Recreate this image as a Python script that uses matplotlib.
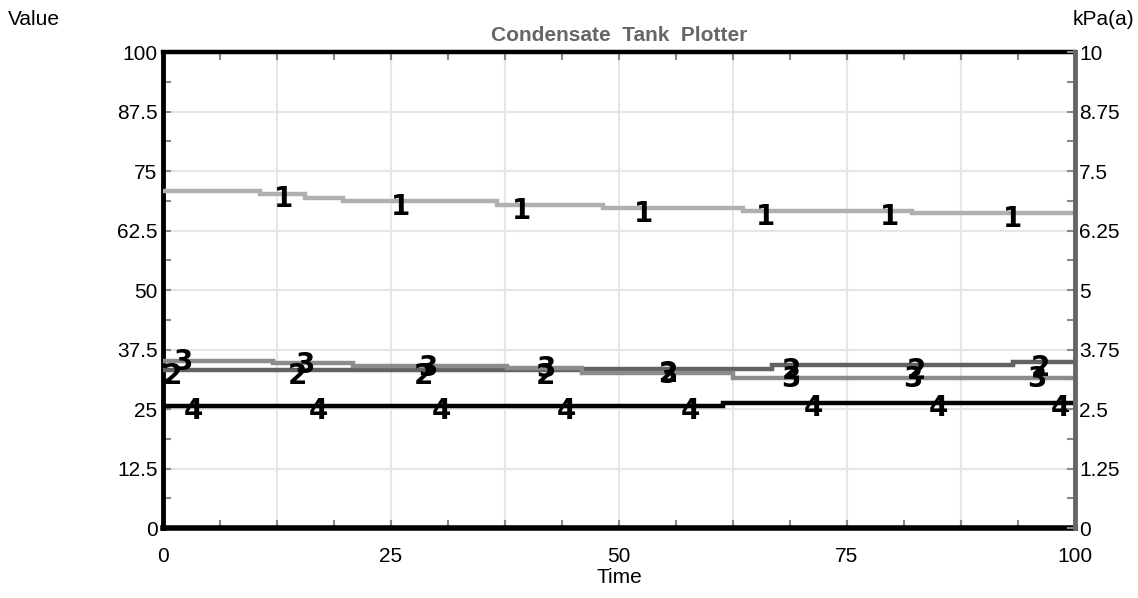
import matplotlib
matplotlib.use("Agg")
import matplotlib.pyplot as plt
import numpy as np
from matplotlib.ticker import FixedLocator, FuncFormatter

plt.rcParams['font.family'] = ['Liberation Sans', 'DejaVu Sans']

# step data (time, value)
t1 = [0, 10.6, 15.6, 19.7, 36.6, 48.2, 63.6, 82.1, 100]
v1 = [70.9, 70.2, 69.3, 68.6, 67.8, 67.2, 66.6, 66.1, 66.1]

t2 = [0, 46, 66.8, 93.2, 100]
v2 = [33.1, 33.5, 34.2, 34.8, 34.8]

t3 = [0, 12.1, 20.8, 37.7, 46, 62.5, 100]
v3 = [35.1, 34.6, 34.0, 33.6, 32.5, 31.5, 31.5]

t4 = [0, 61.4, 100]
v4 = [25.7, 26.3, 26.3]

# where the pen numbers sit along each trace
lab1 = [13.2, 26.1, 39.3, 52.7, 66.1, 79.7, 93.2]
lab2 = [1, 14.7, 28.6, 41.9, 55.4, 68.9, 82.6, 96.2]
lab3 = [2.2, 15.6, 29, 42, 55.4, 68.8, 82.2, 95.8]
lab4 = [3.3, 17, 30.5, 44.2, 57.8, 71.3, 85, 98.4]

pens = [
    ("1", t1, v1, lab1, "#b0b0b0", -4),
    ("2", t2, v2, lab2, "#626262", -4),
    ("3", t3, v3, lab3, "#8c8c8c", -1),
    ("4", t4, v4, lab4, "#000000", -4),
]

fig = plt.figure(figsize=(11.38, 5.98), dpi=100)
ax = fig.add_axes([0.1432, 0.117, 0.8014, 0.796])

for name, tt, vv, labs, col, off in pens:
    ax.plot(tt, vv, drawstyle="steps-post", color=col, lw=3.2, zorder=3,
            solid_joinstyle="miter")
    tt_a = np.array(tt)
    for x in labs:
        y = vv[np.searchsorted(tt_a, x, side="right") - 1]
        ax.annotate(name, (x, y), xytext=(0, off), textcoords="offset points",
                    ha="center", va="center", fontsize=20, fontweight="bold",
                    family="DejaVu Sans", color="black", zorder=5)

ax.set_xlim(0, 100)
ax.set_ylim(0, 100)

xt = np.arange(0, 100.1, 12.5)
ax.xaxis.set_major_locator(FixedLocator(xt))
ax.xaxis.set_minor_locator(FixedLocator(np.arange(0, 100.1, 6.25)))
ax.xaxis.set_major_formatter(FuncFormatter(lambda v, p: "%g" % v if v % 25 == 0 else ""))
yt = np.arange(0, 100.1, 12.5)
ax.yaxis.set_major_locator(FixedLocator(yt))
ax.yaxis.set_minor_locator(FixedLocator(np.arange(0, 100.1, 6.25)))
ax.yaxis.set_major_formatter(FuncFormatter(lambda v, p: "%g" % v))

ax.grid(True, which="major", color="#e6e6e6", lw=1.5, zorder=0)
ax.tick_params(which="both", direction="in", length=6, width=1.5, color="#888888",
               top=True, labelsize=15)
ax.tick_params(axis="x", pad=14)
ax.tick_params(axis="y", pad=4)

for s in ["left", "top", "bottom"]:
    ax.spines[s].set_color("black")
ax.spines["left"].set_linewidth(3.5)
ax.spines["top"].set_linewidth(3.2)
ax.spines["bottom"].set_linewidth(4)
ax.spines["right"].set_visible(False)

ax2 = ax.twinx()
ax2.set_ylim(0, 10)
ax2.yaxis.set_major_locator(FixedLocator(np.arange(0, 10.01, 1.25)))
ax2.yaxis.set_minor_locator(FixedLocator(np.arange(0, 10.01, 0.625)))
ax2.yaxis.set_major_formatter(FuncFormatter(lambda v, p: "%g" % v))
ax2.tick_params(which="both", direction="in", length=6, width=1.5, color="#888888",
                labelsize=15, pad=3)
ax2.spines["right"].set_color("#666666")
ax2.spines["right"].set_linewidth(3.5)
for s in ["left", "top", "bottom"]:
    ax2.spines[s].set_visible(False)

ax.set_xlabel("Time", fontsize=15, labelpad=1)
fig.text(0.007, 0.967, "Value", fontsize=15, ha="left", va="center")
fig.text(0.997, 0.967, "kPa(a)", fontsize=15, ha="right", va="center")
fig.text(0.544, 0.941, "Condensate  Tank  Plotter", fontsize=15, fontweight="bold",
         color="#666666", ha="center", va="center")

plt.savefig("out.png", dpi=100)
